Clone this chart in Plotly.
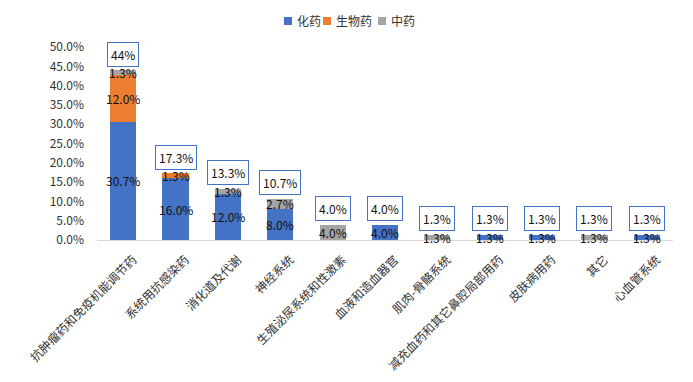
import plotly.graph_objects as go

categories = ["抗肿瘤药和免疫机能调节药", "系统用抗感染药", "消化道及代谢", "神经系统",
              "生殖泌尿系统和性激素", "血液和造血器官", "肌肉-骨骼系统",
              "减充血药和其它鼻腔局部用药", "皮肤病用药", "其它", "心血管系统"]
chem = [30.7, 16.0, 12.0, 8.0, 0, 4.0, 0, 1.3, 1.3, 0, 1.3]
bio = [12.0, 1.3, 0, 0, 0, 0, 0, 0, 0, 0, 0]
tcm = [1.3, 0, 1.3, 2.7, 4.0, 0, 1.3, 0, 0, 1.3, 0]
total_labels = ["44%", "17.3%", "13.3%", "10.7%", "4.0%", "4.0%", "1.3%", "1.3%", "1.3%", "1.3%", "1.3%"]
y_ticks = [0, 5, 10, 15, 20, 25, 30, 35, 40, 45, 50]
series_names = ["化药", "生物药", "中药"]
series_colors = ["#4472C4", "#ED7D31", "#A5A5A5"]

FONT = "Noto Sans CJK SC"
W, H = 693, 382
ML, MR, MT, MB = 97, 20, 47, 142
PW, PH = W - ML - MR, H - MT - MB

fig = go.Figure()
for name, vals, color in zip(series_names, [chem, bio, tcm], series_colors):
    fig.add_trace(go.Bar(x=categories, y=[v / 100 for v in vals], name=name, showlegend=False,
                         marker=dict(color=color, line=dict(width=0)), hoverinfo="skip"))

annotations = []
base = [0.0] * len(categories)
for vals in [chem, bio, tcm]:
    for i, v in enumerate(vals):
        if v > 0:
            annotations.append(dict(x=categories[i], y=(base[i] + v / 2) / 100, text=f"{v:.1f}%",
                                    showarrow=False, font=dict(family=FONT, size=12, color="#111"),
                                    xanchor="center", yanchor="middle"))
            base[i] += v
for i, lab in enumerate(total_labels):
    annotations.append(dict(x=categories[i], y=base[i] / 100, text=lab, showarrow=False,
                            yshift=16, yanchor="middle", xanchor="center",
                            font=dict(family=FONT, size=12, color="#111"),
                            bordercolor="#4472C4", borderwidth=1, borderpad=3, bgcolor="white"))

# legend (keys drawn as small squares + labels, laid out like the original compact legend)
def px_x(p):
    return (p - ML) / PW

def px_y(p):
    return (MT + PH - p) / PH

shapes = []
legend_key_left = [284, 323, 378]
for name, color, kx in zip(series_names, series_colors, legend_key_left):
    shapes.append(dict(type="rect", xref="paper", yref="paper",
                       x0=px_x(kx), x1=px_x(kx + 8), y0=px_y(25), y1=px_y(17),
                       fillcolor=color, line=dict(width=0)))
    annotations.append(dict(xref="paper", yref="paper", x=px_x(kx + 11), y=px_y(21),
                            text=name, showarrow=False, xanchor="left", yanchor="middle",
                            font=dict(family=FONT, size=12, color="#333")))

fig.update_layout(
    barmode="stack", bargap=0.5,
    width=W, height=H,
    margin=dict(l=ML, r=MR, t=MT, b=MB, autoexpand=False),
    paper_bgcolor="white", plot_bgcolor="white",
    font=dict(family=FONT, size=12, color="#333"),
    showlegend=False,
    annotations=annotations, shapes=shapes,
    xaxis=dict(tickangle=-45, showline=True, linecolor="#D9D9D9", linewidth=1,
               ticks="", automargin=False, ticklabelshift=10, ticklabelstandoff=7,
               tickfont=dict(family=FONT, size=12, color="#333")),
    yaxis=dict(range=[0, 0.5], tickvals=[t / 100 for t in y_ticks], tickformat=".1%",
               showgrid=False, zeroline=False, showline=False, ticks="", automargin=False,
               ticklabelstandoff=12,
               tickfont=dict(family=FONT, size=12, color="#333")),
)
fig.write_html("out.html", post_script="document.body.style.margin='0';",
               config={"displayModeBar": False})
